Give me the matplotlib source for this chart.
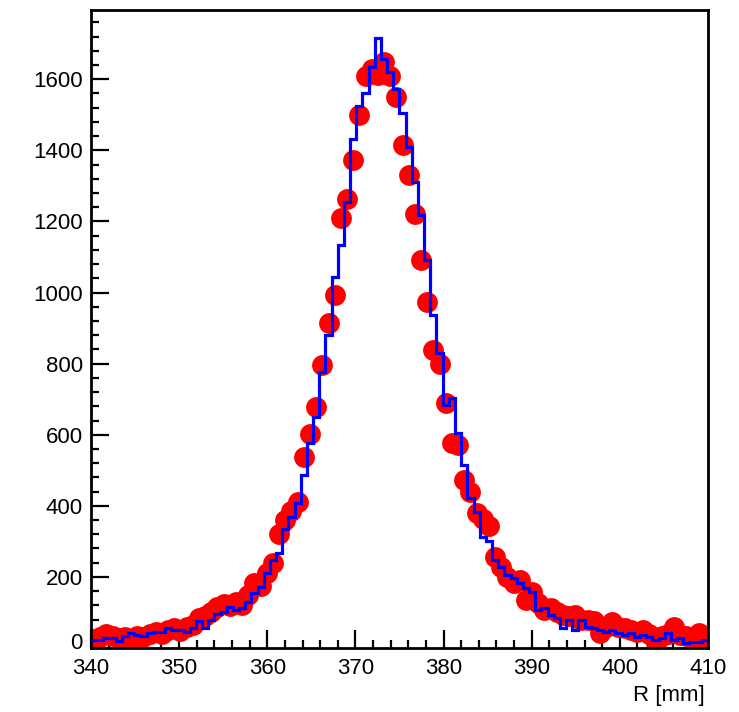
import numpy as np
import matplotlib
matplotlib.use('Agg')
import matplotlib.pyplot as plt
from matplotlib.ticker import MultipleLocator, FuncFormatter

# binning: 100 bins of 0.7 mm from 340 to 410
x_min, x_max, n_bins = 340.0, 410.0, 100

# red points (data)
data_counts = [
    25, 30, 38, 35, 28, 30, 18, 35, 30, 40,
    45, 40, 50, 55, 48, 60, 65, 84, 90, 102,
    115, 125, 118, 128, 120, 150, 183, 175, 212, 238,
    322, 360, 385, 411, 538, 602, 677, 796, 913, 992,
    1211, 1263, 1373, 1500, 1608, 1630, 1612, 1650, 1608, 1551,
    1416, 1332, 1222, 1091, 972, 838, 800, 688, 576, 570,
    472, 440, 380, 362, 343, 257, 229, 200, 182, 190,
    135, 158, 126, 107, 112, 100, 93, 90, 93, 80,
    79, 75, 41, 60, 74, 60, 55, 51, 45, 51,
    40, 13, 35, 40, 60, 37, 35, 30, 41, 22,
]

# blue histogram (simulation)
sim_counts = [
    22, 22, 27, 27, 20, 35, 41, 37, 35, 41,
    46, 46, 55, 51, 51, 46, 55, 77, 55, 79,
    95, 100, 114, 107, 112, 130, 154, 172, 210, 247,
    266, 335, 369, 407, 488, 576, 650, 777, 880, 1044,
    1133, 1255, 1433, 1524, 1562, 1635, 1715, 1658, 1621, 1574,
    1504, 1410, 1311, 1218, 1091, 936, 830, 683, 702, 604,
    515, 421, 383, 313, 302, 248, 229, 205, 196, 182,
    168, 158, 107, 112, 93, 83, 55, 79, 51, 79,
    60, 55, 51, 46, 51, 41, 37, 41, 32, 37,
    32, 22, 27, 41, 22, 27, 13, 18, 18, 22,
]

edges = np.linspace(x_min, x_max, n_bins + 1)
centers = 0.5 * (edges[:-1] + edges[1:])

plt.rcParams['font.family'] = ['Liberation Sans', 'DejaVu Sans']

fig = plt.figure(figsize=(7.39, 7.12), dpi=100)
ax = fig.add_axes([0.1231, 0.0899, 0.8349, 0.8961])

ax.plot(centers, data_counts, 'o', color='#ff0000', markersize=15,
        markeredgewidth=0, zorder=2)
ax.stairs(sim_counts, edges, baseline=None, color='#0000ff',
          linewidth=2.3, zorder=3)

ax.xaxis.set_major_locator(MultipleLocator(10))
ax.xaxis.set_minor_locator(MultipleLocator(2))
ax.yaxis.set_major_locator(MultipleLocator(200))
ax.yaxis.set_minor_locator(MultipleLocator(40))
# the "0" label is drawn separately, a bit higher, so it doesn't hit "340"
ax.yaxis.set_major_formatter(FuncFormatter(lambda v, p: '' if v == 0 else f'{v:.0f}'))

ax.tick_params(which='both', direction='in', top=False, right=False,
               width=1.6, labelsize=16)
ax.tick_params(which='major', length=13)
ax.tick_params(which='minor', length=6)
ax.tick_params(axis='y', pad=6)
ax.tick_params(axis='x', pad=7)

ax.text(-8.3 / 617, 4 / 638, '0', transform=ax.transAxes, ha='right',
        va='center', fontsize=16)

for sp in ax.spines.values():
    sp.set_linewidth(2)

ax.set_xlabel('R [mm]', fontsize=16, loc='right')
ax.xaxis.set_label_coords(0.995, -0.058)

ax.set_xlim(x_min, x_max)
ax.set_ylim(0, 1795)

fig.savefig('out.png', dpi=100)
